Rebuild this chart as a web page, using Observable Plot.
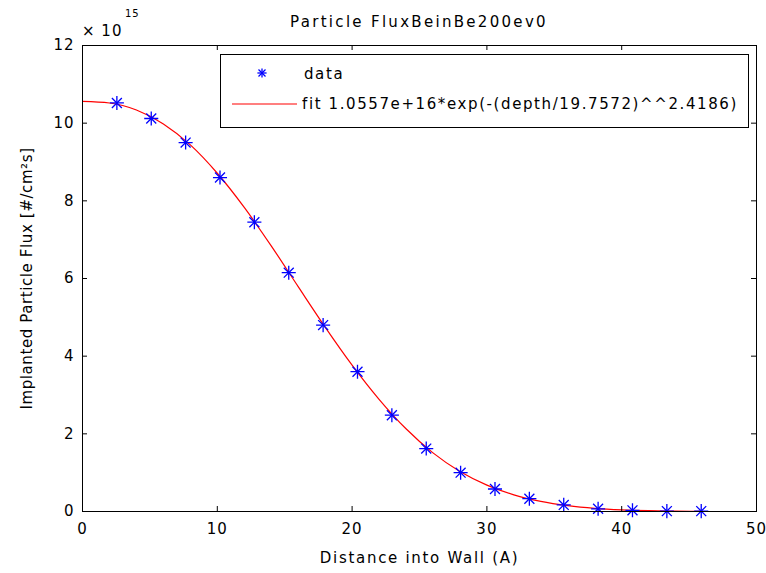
<!DOCTYPE html>
<html><head><meta charset="utf-8">
<script src="https://cdn.jsdelivr.net/npm/d3@7"></script>
<script src="https://cdn.jsdelivr.net/npm/@observablehq/plot@0.6"></script>
<style>
body{margin:0;background:#fff;}
#wrap{position:relative;width:766px;height:573px;font-family:"DejaVu Sans","Liberation Sans",sans-serif;color:#000;}
#wrap > svg text{font-size:15px;letter-spacing:1px;}
#wrap > svg g[aria-label="x-axis label"] text{letter-spacing:1.7px;}
#wrap > svg g[aria-label="y-axis label"] text{letter-spacing:0.6px;}
.ov{position:absolute;white-space:nowrap;line-height:1;}
#title{left:82px;width:674px;top:15px;text-align:center;font-size:15px;letter-spacing:2.3px;}
#expo{left:82px;top:24px;font-size:15px;letter-spacing:1px;}
#expo2{left:125px;top:9px;font-size:10px;letter-spacing:1px;}
#legend{left:220px;top:54px;width:527px;height:72px;border:1px solid #000;background:#fff;}
#legend svg{position:absolute;left:0;top:0;}
.lt{position:absolute;font-size:15px;letter-spacing:1.6px;}
</style></head>
<body><div id="wrap"></div>
<script>
// Data (flux in units of 1e15 #/cm^2 s)
const depth = [2.55, 5.1, 7.65, 10.2, 12.75, 15.3, 17.85, 20.4, 22.95, 25.5, 28.05, 30.6, 33.15, 35.7, 38.25, 40.8, 43.35, 45.9];
const flux  = [10.52, 10.12, 9.5, 8.6, 7.45, 6.15, 4.8, 3.6, 2.48, 1.62, 1.0, 0.58, 0.33, 0.17, 0.07, 0.03, 0.01, 0.01];
const fitDepth = [0, 2, 4, 6, 8, 10, 12, 14, 16, 18, 20, 22, 24, 26, 28, 30, 32, 34, 36, 38, 40, 42, 44, 46];
const fitFlux  = [10.56, 10.52, 10.34, 9.98, 9.44, 8.71, 7.83, 6.84, 5.79, 4.75, 3.77, 2.89, 2.13, 1.51, 1.03, 0.68, 0.43, 0.26, 0.15, 0.08, 0.04, 0.02, 0.01, 0.005];
const xTicks = [0, 10, 20, 30, 40, 50];
const yTicks = [0, 2, 4, 6, 8, 10, 12];
const titleText = "Particle FluxBeinBe200ev0";
const xLabel = "Distance into Wall (A)";
const yLabel = "Implanted Particle Flux [#/cm²s]";
const expoBase = "× 10";
const expoPow = "15";
const legendData = "data";
const legendFit = "fit 1.0557e+16*exp(-(depth/19.7572)^^2.4186)";

const W = 766, H = 573, mt = 45, mr = 10, mb = 62, ml = 82;
const ih = H - mt - mb;
const tk = 5;
const blue = "#0000ff", red = "#ff0000";
const pts = depth.map((d, i) => ({d, f: flux[i]}));
const fit = fitDepth.map((d, i) => ({d, f: fitFlux[i]}));

const chart = Plot.plot({
  width: W, height: H,
  marginTop: mt, marginRight: mr, marginBottom: mb, marginLeft: ml,
  style: {fontFamily: "DejaVu Sans, Liberation Sans, sans-serif", fontSize: "15px", color: "#000", background: "#fff"},
  x: {domain: [0, 50]},
  y: {domain: [0, 12]},
  marks: [
    Plot.line(fit, {x: "d", y: "f", stroke: red, strokeWidth: 1.2, curve: "monotone-x"}),
    Plot.dot(pts, {x: "d", y: "f", symbol: "plus", r: 4.6, stroke: blue, strokeWidth: 1.3}),
    Plot.dot(pts, {x: "d", y: "f", symbol: "times", r: 4.6, stroke: blue, strokeWidth: 1.3}),
    Plot.frame({stroke: "#000", strokeWidth: 1}),
    Plot.tickX(xTicks, {x: d => d, insetTop: ih - tk, stroke: "#000"}),
    Plot.tickX(xTicks, {x: d => d, insetBottom: ih - tk, stroke: "#000"}),
    Plot.tickY(yTicks, {y: d => d, insetRight: (W - ml - mr) - tk, stroke: "#000"}),
    Plot.tickY(yTicks, {y: d => d, insetLeft: (W - ml - mr) - tk, stroke: "#000"}),
    Plot.axisX({ticks: xTicks, tickSize: 0, tickPadding: 12, label: xLabel, labelAnchor: "center", labelOffset: 51, labelArrow: "none", fontSize: 15}),
    Plot.axisY({ticks: yTicks, tickSize: 0, tickPadding: 8, label: yLabel, labelAnchor: "center", labelOffset: 61, labelArrow: "none", fontSize: 15})
  ]
});
const wrap = document.getElementById("wrap");
wrap.appendChild(chart);

function ov(id) {
  const d = document.createElement("div");
  d.className = "ov"; d.id = id; wrap.appendChild(d); return d;
}
ov("title").textContent = titleText;
ov("expo").textContent = expoBase;
ov("expo2").textContent = expoPow;

// Legend
const lg = ov("legend");
const ns = "http://www.w3.org/2000/svg";
const ls = document.createElementNS(ns, "svg");
ls.setAttribute("width", 527); ls.setAttribute("height", 72);
const sx = 41, sy = 18;
[[-4.6,0,4.6,0],[0,-4.6,0,4.6],[-3.5,-3.5,3.5,3.5],[-3.5,3.5,3.5,-3.5]].forEach(([a,b,c,e]) => {
  const l = document.createElementNS(ns, "line");
  l.setAttribute("x1", sx + a); l.setAttribute("y1", sy + b);
  l.setAttribute("x2", sx + c); l.setAttribute("y2", sy + e);
  l.setAttribute("stroke", blue); l.setAttribute("stroke-width", 1.3);
  ls.appendChild(l);
});
const ln = document.createElementNS(ns, "line");
ln.setAttribute("x1", 11); ln.setAttribute("x2", 76); ln.setAttribute("y1", 49); ln.setAttribute("y2", 49);
ln.setAttribute("stroke", red); ln.setAttribute("stroke-width", 1.2);
ls.appendChild(ln);
lg.appendChild(ls);
const t1 = document.createElement("div"); t1.className = "lt"; t1.style.left = "83px"; t1.style.top = "12px"; t1.textContent = legendData; lg.appendChild(t1);
const t2 = document.createElement("div"); t2.className = "lt"; t2.style.left = "81px"; t2.style.top = "42px"; t2.textContent = legendFit; lg.appendChild(t2);
</script>
</body></html>
